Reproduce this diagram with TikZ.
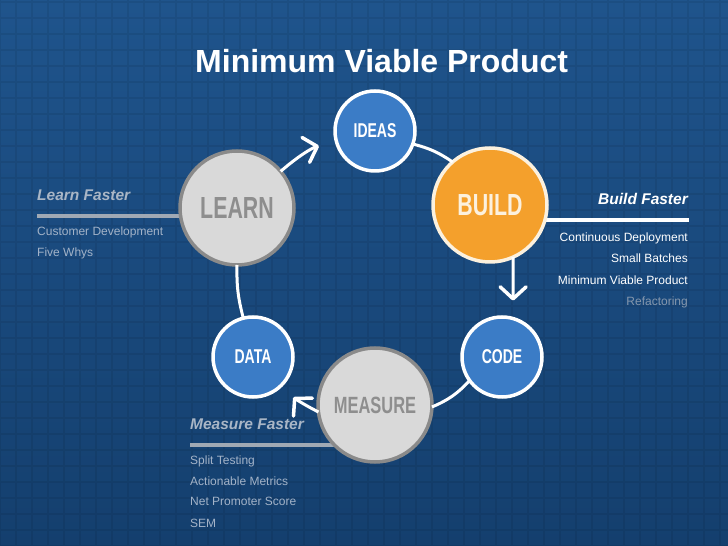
\documentclass[tikz,border=0pt]{standalone}
\usepackage{fontspec}
\setmainfont{Liberation Sans}
\newfontfamily\condfont[FakeStretch=0.7]{Liberation Sans}
\usetikzlibrary{arrows.meta}
\definecolor{bgtop}{HTML}{1F548C}
\definecolor{bgbot}{HTML}{143F6E}
\definecolor{bluefill}{HTML}{3B7CC6}
\definecolor{orangefill}{HTML}{F4A02C}
\definecolor{orangeedge}{HTML}{FCF1DE}
\definecolor{grayfill}{HTML}{D9D9D9}
\definecolor{grayedge}{HTML}{8A8A8A}
\definecolor{graytext}{HTML}{8E8E8E}
\definecolor{sidegray}{HTML}{A9B6C6}
\definecolor{itemgray}{HTML}{A3B3C8}
\definecolor{rulegray}{HTML}{A0A9B4}
\definecolor{dimgray}{HTML}{8597AD}
\begin{document}
\begin{tikzpicture}[x=1pt,y=1pt,
  smallc/.style={circle,draw=white,line width=3.5pt,fill=bluefill,inner sep=0pt,outer sep=0pt,
    minimum size=80pt,text=white,font=\condfont\bfseries\fontsize{20}{22}\selectfont},
  bigc/.style={circle,line width=3.5pt,inner sep=0pt,outer sep=0pt,minimum size=114pt},
  graycirc/.style={bigc,draw=grayedge,fill=grayfill,text=graytext},
  conn/.style={draw=white,line width=3pt},
  arr/.style={conn,-{Straight Barb[length=12pt,width=26pt,round,line width=3.5pt]}},
  heading/.style={font=\bfseries\itshape\fontsize{15.5}{18}\selectfont,inner sep=0pt},
  item/.style={font=\fontsize{12}{14}\selectfont,inner sep=0pt},
  siderule/.style={line width=4pt}
]
\useasboundingbox (0,0) rectangle (728,546);
\shade[top color=bgtop,bottom color=bgbot] (0,0) rectangle (728,546);
\draw[black,opacity=0.07,line width=2.5pt,step=16pt] (0,0) grid (728,546);

% title
\node[anchor=base west,inner sep=0pt,text=white,font=\bfseries\fontsize{32}{36}\selectfont] (title) at (195,473) {Minimum Viable Product};

% side rules (behind circles)
\draw[siderule,rulegray] (37,330) -- (237,330);
\draw[siderule,white] (490,326) -- (689,326);
\draw[siderule,rulegray] (190,101) -- (375,101);

% circles
\node[smallc] (ideas) at (375,415) {IDEAS};
\node[bigc,draw=orangeedge,fill=orangefill,text=orangeedge,font=\condfont\bfseries\fontsize{30.5}{32}\selectfont] (build) at (490,341) {BUILD};
\node[smallc] (code) at (502,189) {CODE};
\node[graycirc,font=\condfont\bfseries\fontsize{23.5}{26}\selectfont] (measure) at (375,141) {MEASURE};
\node[smallc] (data) at (253,189) {DATA};
\node[graycirc,font=\condfont\bfseries\fontsize{30.5}{32}\selectfont] (learn) at (237,338) {LEARN};

% connectors
\draw[arr,shorten >=18pt] (learn.40) to[bend left=12] (ideas.194);
\draw[conn] (ideas.-19) to[bend left=10] (build.131);
\draw[arr,shorten >=18pt] (build.-66) -- (code.74);
\draw[conn] (code.216) to[bend left=12] (measure.-2);
\draw[arr,shorten >=17pt] (measure.187) to[bend left=10] (data.-44);
\draw[conn] (data.104) to[bend left=8] (learn.-90);

% learn side
\node[heading,anchor=base west,text=sidegray] (lh) at (37,345) {Learn Faster};
\node[item,anchor=base west,text=itemgray] (l1) at (37,310) {Customer Development};
\node[item,anchor=base west,text=itemgray] (l2) at (37,289) {Five Whys};

% build side
\node[heading,anchor=base east,text=white] (bh) at (688,341) {Build Faster};
\node[item,anchor=base east,text=white] (b1) at (688,304) {Continuous Deployment};
\node[item,anchor=base east,text=white] (b2) at (688,283) {Small Batches};
\node[item,anchor=base east,text=white] (b3) at (688,261) {Minimum Viable Product};
\node[item,anchor=base east,text=dimgray] (b4) at (688,240) {Refactoring};

% measure side
\node[heading,anchor=base west,text=sidegray] (mh) at (190,116) {Measure Faster};
\node[item,anchor=base west,text=itemgray] (m1) at (190,81) {Split Testing};
\node[item,anchor=base west,text=itemgray] (m2) at (190,60) {Actionable Metrics};
\node[item,anchor=base west,text=itemgray] (m3) at (190,40) {Net Promoter Score};
\node[item,anchor=base west,text=itemgray] (m4) at (190,19) {SEM};
\end{tikzpicture}
\end{document}
